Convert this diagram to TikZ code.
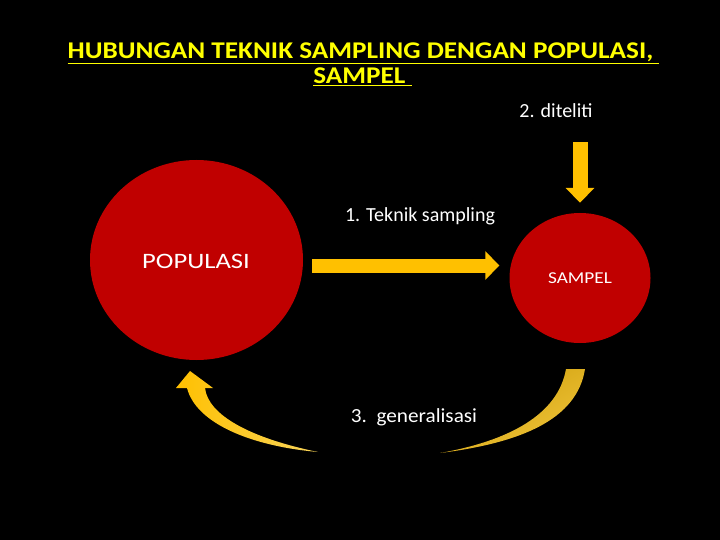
\documentclass[tikz,border=0pt]{standalone}
\usepackage{fontspec}
\setmainfont{Carlito}
\usetikzlibrary{shapes.geometric,arrows.meta}
\definecolor{popred}{HTML}{C00000}
\definecolor{arrowgold}{HTML}{FFC000}
\definecolor{titleyellow}{HTML}{FFFF00}
\definecolor{darkgold}{HTML}{CC9C08}
\definecolor{lightgold}{HTML}{F0C43A}
\definecolor{palegold}{HTML}{F8D45A}
\newcommand{\widetxt}[2]{\scalebox{#1}[1]{#2}}
\tikzset{
  blob/.style={ellipse, fill=popred, inner sep=0pt, text=white},
  lbl/.style={text=white, inner sep=0pt, font=\fontsize{20}{22}\selectfont},
  ttl/.style={text=titleyellow, inner sep=0pt, anchor=base, font=\bfseries\fontsize{24}{26}\selectfont},
  fatarrow/.style={draw=arrowgold, line width=14pt, -{Triangle[length=14pt,width=28pt]}},
}
\begin{document}
\begin{tikzpicture}[x=1pt,y=-1pt]
\fill[black] (0,0) rectangle (720,540);
\useasboundingbox (0,0) rectangle (720,540);

\node[ttl] (title1) at (363.5,59) {\widetxt{1.134}{\underline{HUBUNGAN TEKNIK SAMPLING DENGAN POPULASI,\ }}};
\node[ttl] (title2) at (362.5,84) {\widetxt{1.134}{\underline{SAMPEL\ }}};

\node[blob, minimum width=213pt, minimum height=200pt] (pop) at (196.5,260) {};
\node[text=white, inner sep=0pt, font=\fontsize{22}{24}\selectfont] (poptxt) at (196,261) {\widetxt{1.21}{POPULASI}};
\node[blob, minimum width=141pt, minimum height=130pt, font=\fontsize{16.6}{20}\selectfont] (samp) at (580,278) {\widetxt{1.16}{SAMPEL}};

\node[lbl] (lbl1) at (420,216) {1. Teknik sampling};
\node[lbl] (lbl2) at (556,111) {2. diteliti};
\node[lbl] (lbl3) at (414,417) {\widetxt{1.06}{3.\ \ generalisasi}};

\draw[fatarrow] ([shift={(9,5.5)}]pop.east) -- ([shift={(-10,-12.5)}]samp.west);
\draw[fatarrow, line width=15pt, -{Triangle[length=15pt,width=28pt]}] ([shift={(24,24)}]lbl2.south) -- ([shift={(0,-10)}]samp.north);

% curved tapered arrows (3. generalisasi)
\shade[left color=arrowgold, right color=palegold]
  (190,371) -- (213,388) -- (205,388) .. controls (208,415) and (250,438) .. (318,452)
  .. controls (250,446) and (196,423) .. (187,388) -- (176,388) -- cycle;
\shade[top color=darkgold, bottom color=lightgold, shading angle=30]
  (566,369) -- (585,369) .. controls (577,420) and (520,443) .. (440,453)
  .. controls (508,441) and (558,415) .. (566,369) -- cycle;
\end{tikzpicture}
\end{document}
